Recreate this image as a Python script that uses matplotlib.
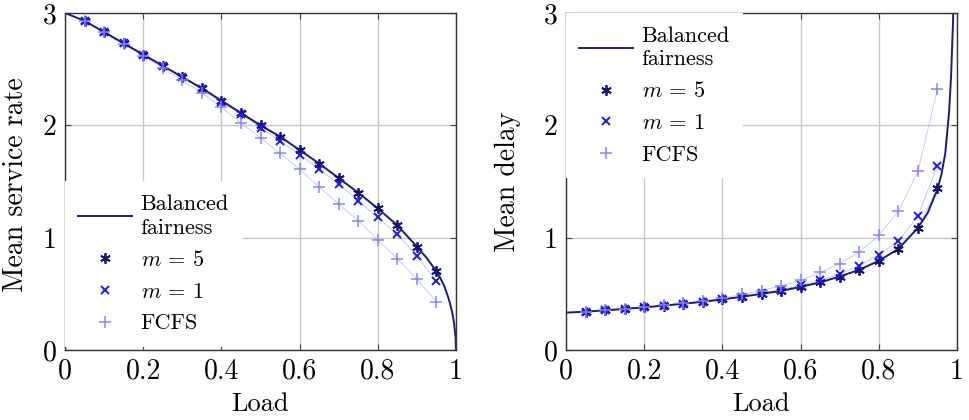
import matplotlib
matplotlib.use("Agg")
import matplotlib.pyplot as plt

plt.rcParams['font.family'] = ['cmr10', 'DejaVu Serif']
plt.rcParams['mathtext.fontset'] = 'cm'
plt.rcParams['axes.formatter.use_mathtext'] = True

# ---------------- data ----------------
loads = [0.05, 0.10, 0.15, 0.20, 0.25, 0.30, 0.35, 0.40, 0.45, 0.50,
         0.55, 0.60, 0.65, 0.70, 0.75, 0.80, 0.85, 0.90, 0.95]

# Mean service rate
rate_m5 = [2.93, 2.83, 2.73, 2.63, 2.53, 2.43, 2.33, 2.22, 2.11, 2.00,
           1.90, 1.78, 1.66, 1.53, 1.40, 1.26, 1.11, 0.92, 0.70]
rate_m1 = [2.93, 2.83, 2.73, 2.63, 2.53, 2.43, 2.32, 2.21, 2.10, 1.98,
           1.86, 1.74, 1.61, 1.48, 1.33, 1.18, 1.03, 0.84, 0.61]
rate_fcfs = [2.93, 2.83, 2.72, 2.62, 2.51, 2.40, 2.29, 2.16, 2.02, 1.89,
             1.75, 1.61, 1.45, 1.30, 1.15, 0.98, 0.81, 0.63, 0.43]

bf_load = [0.0, 0.05, 0.10, 0.15, 0.20, 0.25, 0.30, 0.35, 0.40, 0.45, 0.50,
           0.55, 0.60, 0.65, 0.70, 0.75, 0.80, 0.85, 0.90, 0.925, 0.95,
           0.96, 0.97, 0.98, 0.985, 0.99, 0.995, 0.999, 1.0]
bf_rate = [3.0, 2.93, 2.83, 2.73, 2.63, 2.53, 2.43, 2.33, 2.22, 2.11, 2.00,
           1.90, 1.78, 1.66, 1.53, 1.40, 1.26, 1.11, 0.92, 0.82, 0.70,
           0.64, 0.57, 0.47, 0.41, 0.34, 0.24, 0.11, 0.0]

# Mean delay
delay_m5 = [0.341, 0.353, 0.366, 0.380, 0.395, 0.412, 0.429, 0.450, 0.474, 0.500,
            0.526, 0.562, 0.602, 0.654, 0.714, 0.794, 0.900, 1.087, 1.44]
delay_m1 = [0.341, 0.353, 0.367, 0.380, 0.395, 0.412, 0.431, 0.452, 0.476, 0.505,
            0.538, 0.575, 0.621, 0.676, 0.752, 0.847, 0.970, 1.19, 1.64]
delay_fcfs = [0.341, 0.353, 0.368, 0.382, 0.398, 0.417, 0.437, 0.463, 0.495, 0.529,
              0.571, 0.621, 0.690, 0.770, 0.870, 1.020, 1.235, 1.59, 2.32]

bf_delay_load = [0.0, 0.05, 0.10, 0.15, 0.20, 0.25, 0.30, 0.35, 0.40, 0.45, 0.50,
                 0.55, 0.60, 0.65, 0.70, 0.75, 0.80, 0.85, 0.90, 0.925, 0.95,
                 0.96, 0.97, 0.98, 0.985, 0.99, 0.995]
bf_delay = [0.333, 0.341, 0.353, 0.366, 0.380, 0.395, 0.412, 0.429, 0.450, 0.474, 0.500,
            0.526, 0.562, 0.602, 0.654, 0.714, 0.794, 0.900, 1.087, 1.22, 1.43,
            1.56, 1.75, 2.13, 2.45, 2.94, 4.2]

xticks = [0, 0.2, 0.4, 0.6, 0.8, 1]
xticklabels = ['0', '0.2', '0.4', '0.6', '0.8', '1']
yticks = [0, 1, 2, 3]
yticklabels = ['0', '1', '2', '3']

labels = ['Balanced\nfairness', r'$m\,=\,5$', r'$m\,=\,1$', 'FCFS']

# ---------------- style ----------------
c_bf = '#1c1c80'
c_m5 = '#12127a'
c_m1 = '#1a1aee'
c_fcfs = '#8585ff'

fig = plt.figure(figsize=(9.69, 4.2), dpi=100)
ax1 = fig.add_axes([65/969, 1-350/420, 391/969, 337/420])
ax2 = fig.add_axes([566/969, 1-350/420, 391/969, 337/420])


def draw(ax, bx, by, y5, y1, yf, ylabel, legloc, anchor):
    ax.set_xlim(0, 1)
    ax.set_ylim(0, 3)
    ax.grid(True, color='#c8c8c8', linewidth=1.0)
    ax.set_axisbelow(True)
    # thin connecting lines
    ax.plot(loads, y5, color=c_m5, lw=0.6, alpha=0.3)
    ax.plot(loads, y1, color=c_m1, lw=0.6, alpha=0.3)
    ax.plot(loads, yf, color=c_fcfs, lw=0.6, alpha=0.5)
    l0, = ax.plot(bx, by, color=c_bf, lw=1.4)
    l1, = ax.plot(loads, y5, ls='none', marker=(6, 2, 0), ms=7.5, mew=1.3, color=c_m5)
    l2, = ax.plot(loads, y1, ls='none', marker='x', ms=6, mew=1.4, color=c_m1)
    l3, = ax.plot(loads, yf, ls='none', marker='+', ms=8.5, mew=1.1, color=c_fcfs)
    ax.set_xticks(xticks)
    ax.set_xticklabels(xticklabels)
    ax.set_yticks(yticks)
    ax.set_yticklabels(yticklabels)
    ax.tick_params(direction='in', length=4, labelsize=20, pad=6,
                   top=True, right=True, color='#444444')
    for s in ax.spines.values():
        s.set_color('#333333')
        s.set_linewidth(1.0)
    ax.set_xlabel('Load', fontsize=19)
    ax.xaxis.set_label_coords(0.5, -0.125)
    ax.set_ylabel(ylabel, fontsize=20)
    leg = ax.legend([l0, l1, l2, l3], labels, loc=legloc, bbox_to_anchor=anchor,
                    fontsize=16, frameon=True, fancybox=False, framealpha=1,
                    edgecolor='none', facecolor='white', handlelength=2.4,
                    handletextpad=0.4, labelspacing=0.55, borderpad=0.6,
                    borderaxespad=0.0)
    for t in leg.get_texts():
        t.set_linespacing(1.25)
    return leg


draw(ax1, bf_load, bf_rate, rate_m5, rate_m1, rate_fcfs, 'Mean service rate',
     'lower left', (0.0, 0.01))
ax1.yaxis.set_label_coords(-0.092, 0.49)
draw(ax2, bf_delay_load, bf_delay, delay_m5, delay_m1, delay_fcfs, 'Mean delay',
     'upper left', (0.0, 1.0))
ax2.yaxis.set_label_coords(-0.115, 0.5)

fig.savefig('out.png', dpi=100)
